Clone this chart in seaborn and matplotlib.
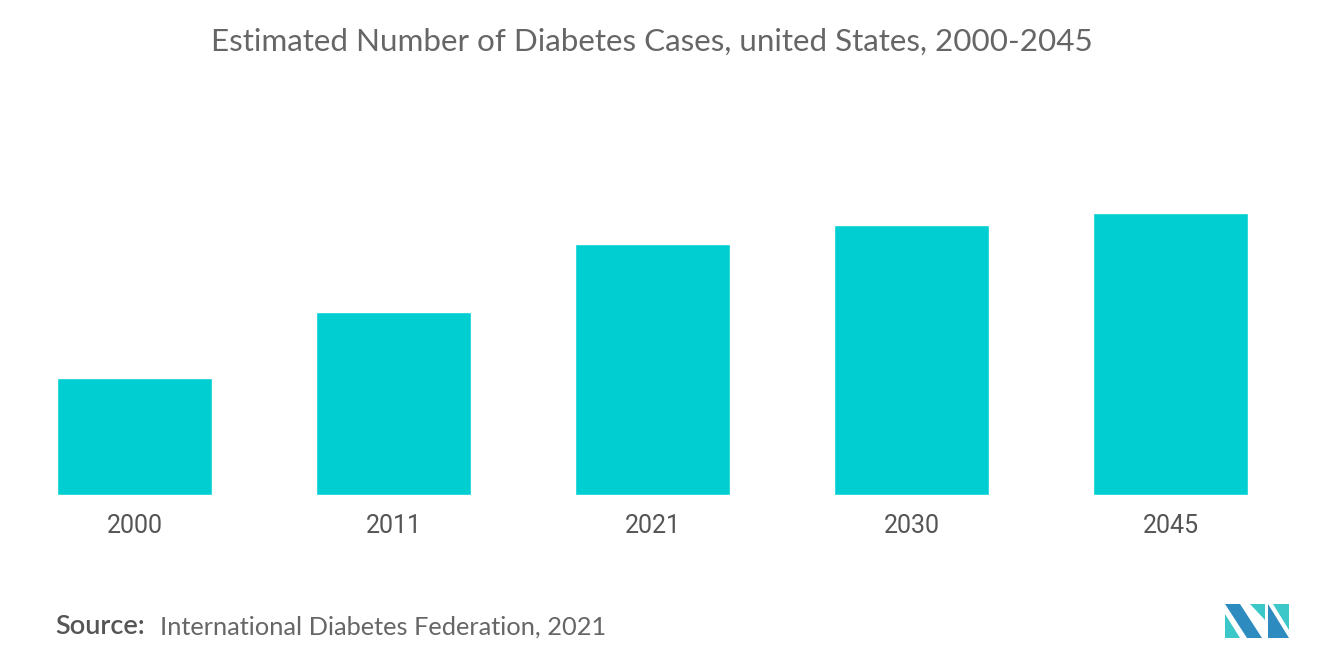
import matplotlib
matplotlib.use("Agg")
import matplotlib.pyplot as plt
import seaborn as sns
import pandas as pd
from matplotlib.patches import Polygon

# --- datos ---
anios = ["2000", "2011", "2021", "2030", "2045"]
casos = [15.1, 23.6, 32.3, 34.8, 36.3]  # millones (estimado de la imagen)

titulo = "Estimated Number of Diabetes Cases, united States, 2000-2045"
fuente_label = "Source:"
fuente_texto = "International Diabetes Federation, 2021"

datos = pd.DataFrame({"anio": anios, "casos": casos})

sns.set_style("white")
plt.rcParams["font.family"] = ["Lato", "DejaVu Sans"]

fig = plt.figure(figsize=(13.2, 6.65), dpi=100)
ax = fig.add_axes([5 / 1320, 1 - 495 / 665, 1295 / 1320, 375 / 665])

sns.barplot(data=datos, x="anio", y="casos", color="#00CED1",
            saturation=1, width=0.6, ax=ax)

ax.set_xlim(-0.5, 4.5)
ax.set_ylim(0, 36.3 * 375 / 282)
ax.set_xlabel("")
ax.set_ylabel("")
ax.set_yticks([])
ax.set_xticks(range(len(anios)), anios, fontfamily=["Roboto", "DejaVu Sans"],
              fontsize=18, color="#555555")
ax.tick_params(axis="x", length=0, pad=14)
sns.despine(ax=ax, left=True, bottom=True)

fig.text(652 / 1320, 1 - 42 / 665, titulo, ha="center", va="center",
         fontsize=22.6, color="#666666")
fig.text(55 / 1320, 1 - 627 / 665, fuente_label, ha="left", va="center",
         fontsize=19.5, color="#555555", fontweight="semibold")
fig.text(160 / 1320, 1 - 627 / 665, fuente_texto, ha="left", va="center",
         fontsize=18.3, color="#666666")

# logo
def px(x, y):
    return (x / 1320, 1 - y / 665)

logo = [
    ([(1225, 604), (1240, 604), (1262, 638), (1247, 638)], "#2E8BC0"),
    ([(1225, 614), (1240, 638), (1225, 638)], "#3CC8C8"),
    ([(1250, 604), (1265, 604), (1265, 620)], "#3CC8C8"),
    ([(1268, 604), (1289, 638), (1268, 638)], "#2E8BC0"),
    ([(1273, 604), (1289, 604), (1289, 630)], "#3CC8C8"),
]
for puntos, c in logo:
    fig.patches.append(Polygon([px(*p) for p in puntos], closed=True,
                               facecolor=c, edgecolor="none",
                               transform=fig.transFigure))

fig.savefig("out.png", dpi=100)
